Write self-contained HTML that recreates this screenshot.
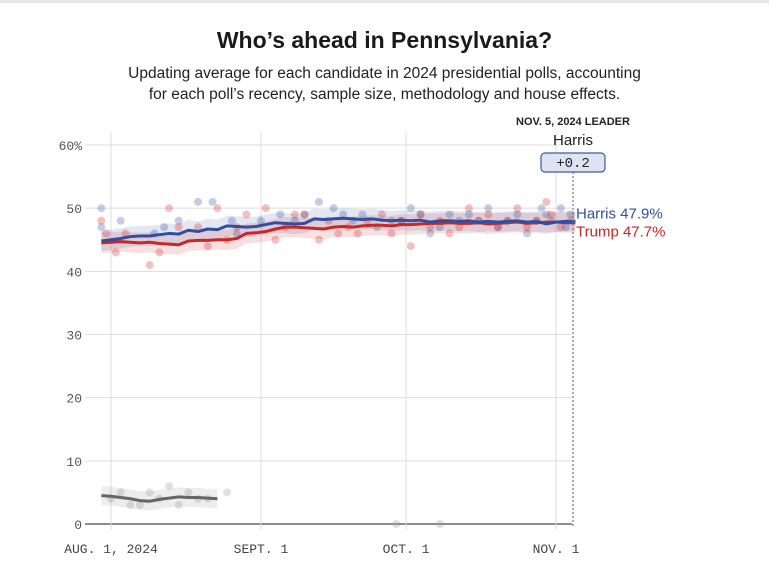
<!DOCTYPE html>
<html><head><meta charset="utf-8"><style>
body{margin:0;background:#fff;width:769px;height:574px;overflow:hidden;font-family:"Liberation Sans",sans-serif}
#top{position:absolute;left:0;top:0;width:769px;height:3px;background:#e6e6e6}
h1{position:absolute;left:0;width:769px;top:27px;margin:0;text-align:center;font-size:23px;font-weight:bold;color:#1a1a1a}
.sub{position:absolute;left:0;width:769px;top:63px;text-align:center;font-size:15.5px;line-height:21px;color:#222}
svg{position:absolute;left:0;top:0}
</style></head><body>
<div id="top"></div>
<h1>Who’s ahead in Pennsylvania?</h1>
<div class="sub">Updating average for each candidate in 2024 presidential polls, accounting<br>for each poll’s recency, sample size, methodology and house effects.</div>
<svg id="chart" width="769" height="574"></svg>
<script>
const yTicks=[0,10,20,30,40,50,60];
const xTickDays=[0,31,61,92];
const xTickLabels=["AUG. 1, 2024","SEPT. 1","OCT. 1","NOV. 1"];
const trendDays=[-2,0,2,4,6,8,10,12,14,16,18,20,22,24,26,28,30,32,34,36,38,40,42,44,46,48,50,52,54,56,58,60,62,64,66,68,70,72,74,76,78,80,82,84,86,88,90,92,94,96];
const harris=[44.8,45.0,45.2,45.5,45.6,45.6,45.8,46.0,45.9,46.5,46.3,46.7,46.6,47.2,47.1,47.0,47.1,47.4,47.7,47.6,47.5,47.6,48.3,48.2,48.3,48.4,48.3,48.2,48.3,48.1,48.0,48.1,48.0,48.1,47.8,48.0,48.0,47.9,48.0,47.8,47.9,47.8,47.9,48.0,47.8,47.9,47.5,47.8,47.9,47.9];
const trump=[44.5,44.6,44.7,44.6,44.5,44.6,44.4,44.3,44.2,44.8,44.9,44.9,45.0,45.0,45.2,46.0,46.1,46.3,46.7,47.0,47.0,46.9,46.8,46.7,47.0,47.1,47.0,47.2,47.3,47.3,47.2,47.4,47.4,47.5,47.6,47.6,47.7,47.6,47.6,47.7,47.5,47.6,47.7,47.8,47.6,47.7,47.8,47.8,47.7,47.7];
const otherDays=[-2,0,2,4,6,8,10,12,14,16,18,20,22];
const other=[4.5,4.4,4.2,4.0,3.7,3.6,3.9,4.1,4.3,4.2,4.2,4.1,4.0];
const harrisPollDays=[-2,-2,2,9,11,14,18,21,25,26,31,35,38,40,43,46,48,50,52,55,58,60,62,64,66,68,70,72,74,76,78,80,82,84,86,88,89,90,91,93,94,95];
const harrisPolls=[50,47,48,46,47,48,51,51,48,46,48,49,48,49,51,50,49,48,49,47,48,48,50,49,46,47,49,48,49,48,50,47,48,49,46,48,50,49,48,50,47,49];
const trumpPollDays=[-2,-1,1,3,8,10,12,14,18,20,22,24,26,28,32,34,36,38,40,43,45,47,49,51,53,56,58,60,62,64,66,68,70,72,74,76,78,80,82,84,86,88,90,91,93,95];
const trumpPolls=[48,46,43,46,41,43,50,47,47,44,50,45,47,49,50,45,47,49,49,45,48,46,47,46,48,49,46,48,44,49,47,48,46,47,50,48,49,47,48,50,47,48,51,49,47,48];
const otherPollDays=[0,2,4,6,8,10,12,14,16,18,20,24,59,68];
const otherPolls=[4,5,3,3,5,4,6,3,5,4,4,5,0,0];
const harrisFinal=47.9, trumpFinal=47.7;

const svg=document.getElementById('chart');
const NS='http://www.w3.org/2000/svg';
const X=d=>111+d*445/92;
const Y=v=>524-v*(379/60);
function el(t,a,txt){const e=document.createElementNS(NS,t);for(const k in a)e.setAttribute(k,a[k]);if(txt!==undefined)e.textContent=txt;svg.appendChild(e);return e;}
const mono='"Liberation Mono",monospace';
yTicks.forEach(v=>{
 const l=el('line',{x1:85,x2:572,y1:Y(v),y2:Y(v),stroke:v===0?'#666':'#ddd','stroke-width':v===0?1.5:1});
 
 
 const t=el('text',{x:82,y:Y(v)+5,'text-anchor':'end','font-size':13,'font-family':mono,fill:'#555'},v===60?'60%':String(v));
 
 
});
xTickDays.forEach((d,i)=>{
 const l=el('line',{x1:X(d),x2:X(d),y1:Y(62),y2:530,stroke:'#ddd'});
 
 
 const t=el('text',{x:X(d),y:553,'text-anchor':'middle','font-size':13,'font-family':mono,fill:'#444'},xTickLabels[i]);
 
 
});
function band(days,vals,w,color,name){
 let p=days.map((d,i)=>X(d)+','+Y(vals[i]+w)).join(' ')+' '+days.slice().reverse().map((d,i)=>X(d)+','+Y(vals[vals.length-1-i]-w)).join(' ');
 const b=el('polygon',{points:p,fill:color,opacity:0.15});
 
 
}
band(trendDays,harris,1.6,'#3b5ba5','harris-band');
band(trendDays,trump,1.6,'#d32f2f','trump-band');
band(otherDays,other,1.5,'#888','other-band');
function dots(days,vals,color,name){vals.forEach((v,i)=>{const c=el('circle',{cx:X(days[i]),cy:Y(v),r:4,fill:color,opacity:0.3});
 
 });}
dots(harrisPollDays,harrisPolls,'#3b5ba5','harris-poll-dot');
dots(trumpPollDays,trumpPolls,'#d32f2f','trump-poll-dot');
dots(otherPollDays,otherPolls,'#999','other-poll-dot');
function line(days,vals,color,name){const l=el('polyline',{points:days.map((d,i)=>X(d)+','+Y(vals[i])).join(' '),fill:'none',stroke:color,'stroke-width':3,'stroke-linejoin':'round'});
 
 }
line(otherDays,other,'#666','other-trend-line');
line(trendDays,trump,'#c62828','trump-trend-line');
line(trendDays,harris,'#2f4fa0','harris-trend-line');
const dl=el('line',{x1:573,x2:573,y1:172,y2:528,stroke:'#777','stroke-dasharray':'2,2','stroke-width':1.2});


const lh=el('text',{x:576,y:Y(harrisFinal)-3,'font-size':15,fill:'#2f4fa0'},'Harris '+harrisFinal+'%');


const lt=el('text',{x:576,y:Y(trumpFinal)+14,'font-size':15,fill:'#c62828'},'Trump '+trumpFinal+'%');


const h1=el('text',{x:573,y:125,'text-anchor':'middle','font-size':11,'font-weight':'bold',fill:'#222'},'NOV. 5, 2024 LEADER');


const h2=el('text',{x:573,y:145,'text-anchor':'middle','font-size':15,fill:'#222'},'Harris');


const bx=el('rect',{x:541,y:153,width:64,height:19,rx:4,fill:'#dde3f2',stroke:'#3b5ba5','stroke-width':1.2});


const mt=el('text',{x:573,y:167,'text-anchor':'middle','font-size':14,'font-family':mono,fill:'#222'},'+'+(harrisFinal-trumpFinal).toFixed(1));


</script>
</body></html>
